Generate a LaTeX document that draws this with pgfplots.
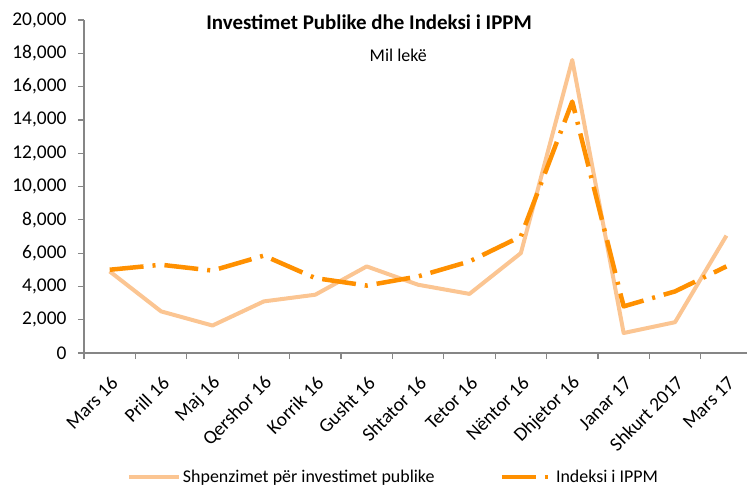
\documentclass[border=0pt]{standalone}
\usepackage{pgfplots}
\pgfplotsset{compat=1.18}
\usepackage{fontspec}
\setmainfont{Carlito}
\definecolor{lightor}{HTML}{FBC592}
\definecolor{darkor}{HTML}{FF9000}
\definecolor{axgray}{HTML}{868686}
\begin{document}
\begin{tikzpicture}
\begin{axis}[
  name=ax,
  scale only axis,
  width=663bp, height=333bp,
  xmin=-0.5, xmax=12.4,
  ymin=0, ymax=20000,
  axis lines*=left,
  axis line style={axgray, line width=1.2bp},
  tick align=outside,
  major tick length=6bp,
  tick style={axgray, line width=1.2bp},
  xtick={-0.5,0.5,...,12.5},
  xticklabel=\empty,
  extra x ticks={0,1,...,12},
  extra x tick labels={Mars 16,Prill 16,Maj 16,Qershor 16,Korrik 16,Gusht 16,Shtator 16,Tetor 16,Nëntor 16,Dhjetor 16,Janar 17,Shkurt 2017,Mars 17},
  extra x tick style={major tick length=0pt, xticklabel style={inner sep=0pt, xshift=5bp, yshift=-27bp, rotate=45, anchor=east}},
  ytick={0,2000,...,20000},
  scaled y ticks=false,
  yticklabel style={xshift=-8bp},
  /pgf/number format/fixed,
  /pgf/number format/1000 sep={,},
  /pgf/number format/assume math mode=true,
  ticklabel style={font=\fontsize{19.5}{23}\selectfont, text=black},
  legend image code/.code={\draw[#1] (0bp,0bp) -- (50bp,0bp);},
  legend columns=2,
  legend style={at={(0.06,-0.372)}, anchor=west, draw=none, fill=none,
    font=\fontsize{18}{21}\selectfont,
    /tikz/every even column/.append style={column sep=63bp}},
  clip=false,
]
\addplot[lightor, line width=4bp, line join=round] coordinates {
(0,4900)(1,2500)(2,1650)(3,3100)(4,3500)(5,5200)(6,4100)(7,3550)(8,6000)(9,17600)(10,1200)(11,1850)(12,7050)};
\addplot[darkor, line width=4.5bp, line join=round, dash pattern=on 34bp off 9bp on 3bp off 9bp] coordinates {
(0,5000)(1,5300)(2,4950)(3,5850)(4,4500)(5,4050)(6,4600)(7,5500)(8,7000)(9,15100)(10,2800)(11,3700)(12,5200)};
\legend{Shpenzimet për investimet publike, Indeksi i IPPM}
\node[font=\bfseries\fontsize{21}{25}\selectfont] at (rel axis cs:0.43,0.994) {Investimet Publike dhe Indeksi i IPPM};
\node[font=\fontsize{18}{21}\selectfont] at (rel axis cs:0.474,0.895) {Mil lekë};
\end{axis}
\pgfresetboundingbox
\path[use as bounding box] ([xshift=-84bp,yshift=-132bp]ax.south west) rectangle ([yshift=20bp]ax.north east);
\end{tikzpicture}
\end{document}
